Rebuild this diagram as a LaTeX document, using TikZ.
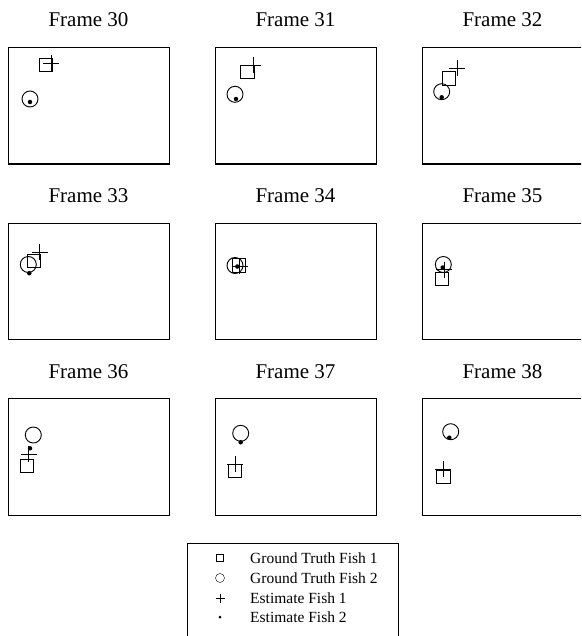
\documentclass[tikz,border=0pt]{standalone}
\usepackage{fontspec}
\setmainfont{Liberation Serif}
\usetikzlibrary{shapes.geometric}

\begin{document}
\begin{tikzpicture}[
  x=1pt, y=-1pt,
  frame/.style={
    draw, line width=1.4pt, anchor=north west, inner sep=0pt,
    minimum width=161pt, minimum height=116.5pt
  },
  ftitle/.style={font=\fontsize{21}{25}\selectfont, anchor=base},
  gtsq/.style={draw, rectangle, inner sep=0pt, minimum size=13.5pt},
  gtci/.style={draw, circle, inner sep=0pt, minimum size=16pt},
  estdot/.style={fill, circle, inner sep=0pt, minimum size=4.5pt},
  mark line/.style={line width=0.9pt},
  legtext/.style={anchor=west, inner sep=0pt, font=\fontsize{15.5}{18}\selectfont}
]
\clip (0,0) rectangle (581,636);

% frame / column / row / square / plus / circle / dot
\foreach \n/\c/\r/\sx/\sy/\px/\py/\cx/\cy/\dx/\dy in {
  30/0/0/38/18/43/16.5/22/52/22/55,
  31/1/0/32.5/25/38/18/20/47.3/21/52,
  32/2/0/27/31.3/35/21.5/19.7/44.7/19.7/50.3,
  33/0/1/25.7/38.3/31.5/29.5/20.3/42/21.3/50.7,
  34/1/1/23.7/43/24.5/43.5/20/43/22.3/44,
  35/2/1/19.7/56.3/22/47/21.3/42/20.7/45,
  36/0/2/18.7/67.7/20.7/56/25.3/37/22/50.3,
  37/1/2/20/73/20/66.3/25.7/35.3/25.7/44.3,
  38/2/2/21.3/79/21.3/71/28.7/33.7/27.3/39.7}{
  \node[frame] (f\n) at ({8+207*\c},{47+175.5*\r}) {};
  \node[ftitle] (t\n) at ({88.5+207*\c},{27+175.5*\r}) {Frame \n};
  \begin{scope}[shift={(f\n.north west)}]
    \node[gtsq, mark line] (sq\n) at (\sx,\sy) {};
    \node[gtci, mark line] (ci\n) at (\cx,\cy) {};
    \draw[mark line] (\px-8,\py) -- (\px+8,\py) (\px,\py-8) -- (\px,\py+8);
    \node[estdot] (dt\n) at (\dx,\dy) {};
  \end{scope}
}

% legend
\node[draw, line width=0.8pt, anchor=north west, inner sep=0pt,
  minimum width=211pt, minimum height=110pt] (legend) at (187,543) {};
\node[draw, rectangle, inner sep=0pt, minimum size=7pt] (lgsq) at (220,558) {};
\node[draw, circle, inner sep=0pt, minimum size=9pt] (lgci) at (220,578) {};
\draw (215.5,598) -- (224.5,598) (220,593.5) -- (220,602.5);
\node[fill, circle, inner sep=0pt, minimum size=3pt] (lgdt) at (220,617) {};
\node[legtext] (lt1) at (250,558) {Ground Truth Fish 1};
\node[legtext] (lt2) at (250,578) {Ground Truth Fish 2};
\node[legtext] (lt3) at (250,598) {Estimate Fish 1};
\node[legtext] (lt4) at (250,617) {Estimate Fish 2};
\end{tikzpicture}
\end{document}
